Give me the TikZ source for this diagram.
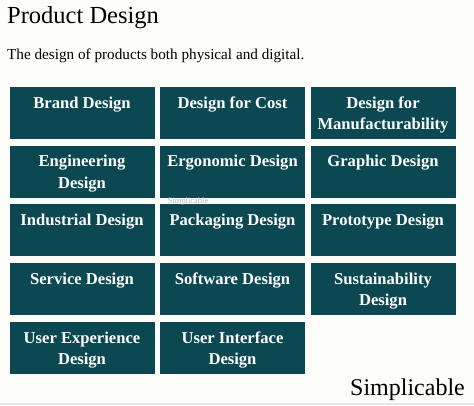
\documentclass[tikz,border=0pt]{standalone}
\usepackage{fontspec}
\setmainfont{Liberation Serif}
\definecolor{teal}{RGB}{11,72,81}
\definecolor{bgc}{RGB}{253,253,250}
\tikzset{
  card/.style={fill=teal, draw=none, minimum width=145pt, minimum height=52pt, inner sep=0pt, anchor=north},
  cardtext/.style={text=white, font=\fontsize{16.6}{21.5}\selectfont\bfseries, align=center, inner sep=0pt, anchor=north},
}
\newcommand{\mycard}[4]{%
  \node[card] (#1) at (#2,#3) {};
  \node[cardtext] (#1t) at ([yshift=-6pt]#1.north) {\strut #4};
}
\begin{document}
\begin{tikzpicture}[x=1pt,y=-1pt]
\fill[bgc] (0,0) rectangle (474,405);
\useasboundingbox (0,0) rectangle (474,405);
\fill[gray!18] (0,403) rectangle (474,405);
\node[anchor=base west, inner sep=0pt, font=\fontsize{24.5}{28}\selectfont] (title) at (7,23) {Product Design};
\node[anchor=base west, inner sep=0pt, font=\fontsize{15.2}{18}\selectfont] (sub) at (7,59) {The design of products both physical and digital.};
\mycard{c1}{82}{87}{Brand Design}
\mycard{c2}{232.5}{87}{Design for Cost}
\mycard{c3}{383}{87}{Design for\\Manufacturability}
\mycard{c4}{82}{145.5}{Engineering\\Design}
\mycard{c5}{232.5}{145.5}{Ergonomic Design}
\mycard{c6}{383}{145.5}{Graphic Design}
\mycard{c7}{82}{204}{Industrial Design}
\mycard{c8}{232.5}{204}{Packaging Design}
\mycard{c9}{383}{204}{Prototype Design}
\mycard{c10}{82}{263}{Service Design}
\mycard{c11}{232.5}{263}{Software Design}
\mycard{c12}{383}{263}{Sustainability\\Design}
\mycard{c13}{82}{322}{User Experience\\Design}
\mycard{c14}{232.5}{322}{User Interface\\Design}
\node[inner sep=0pt, text=gray!55, font=\fontsize{8.5}{10}\selectfont] (wm) at (188,201) {Simplicable};
\node[anchor=base east, inner sep=0pt, font=\fontsize{24}{28}\selectfont] (brand) at (465,395) {Simplicable};
\end{tikzpicture}
\end{document}
